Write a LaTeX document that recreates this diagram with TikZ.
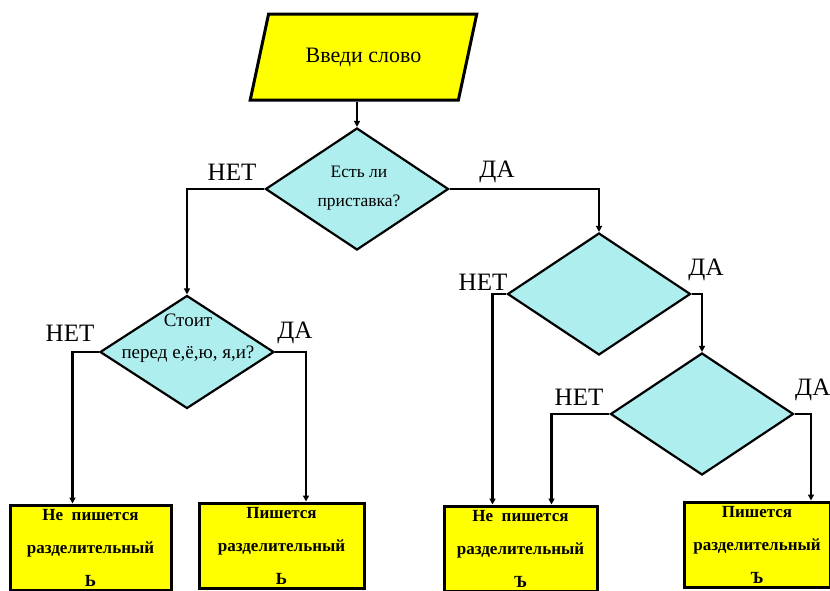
\documentclass[tikz,border=0pt]{standalone}
\usepackage{fontspec}
\setmainfont{Liberation Serif}
\usetikzlibrary{shapes.geometric,arrows.meta}
\definecolor{fillcyan}{RGB}{175,238,238}
\definecolor{fillyel}{RGB}{255,255,0}
\begin{document}
\begin{tikzpicture}[x=1pt,y=-1pt,
  lbl/.style={font=\fontsize{25}{25}\selectfont, inner sep=0pt},
  dtext/.style={font=\fontsize{17.5}{29}\selectfont, align=center, inner sep=0pt},
  dec/.style={diamond, draw, line width=2.2pt, fill=fillcyan, minimum width=183pt, minimum height=122pt, inner sep=0pt},
  outbox/.style={rectangle, draw, line width=3pt, fill=fillyel, minimum height=85pt, align=center, inner sep=0pt, font=\bfseries\fontsize{17}{33}\selectfont},
  conn/.style={line width=2.2pt, -{Triangle[length=6pt,width=6pt]}},
]
\useasboundingbox (0,0) rectangle (830,590);

% input
\node[trapezium, trapezium left angle=59, trapezium right angle=121, trapezium stretches=true,
      draw, line width=3pt, fill=fillyel, minimum width=227pt, minimum height=86pt, inner sep=0pt,
      font=\fontsize{22}{22}\selectfont] (in) at (363.5,57) {Введи слово};

% decisions
\node[dec] (d1) at (357,189) {};
\node[dtext] (t1) at (359,188) {Есть ли\\приставка?};
\node[dec, minimum width=174pt, minimum height=113pt] (d2) at (187,352) {};
\node[dtext, font=\fontsize{19}{32}\selectfont] (t2) at (188,338) {Стоит\\перед е,ё,ю, я,и?};
\node[dec] (d3) at (599,294) {};
\node[dec] (d4) at (702,414) {};

% outputs
\node[outbox, minimum width=161pt] (b1) at (90.5,547.5) {Не\ \ пишется\\разделительный\\Ь};
\node[outbox, minimum width=165pt] (b2) at (281.5,545.5) {Пишется\\разделительный\\Ь};
\node[outbox, minimum width=153pt] (b3) at (520.5,548.5) {Не\ \ пишется\\разделительный\\Ъ};
\node[outbox, minimum width=146pt] (b4) at (757,544.5) {Пишется\\разделительный\\Ъ};

% labels
\node[lbl] (n1) at (232,172) {НЕТ};
\node[lbl] (y1) at (497,172) {ДА};
\node[lbl] (n2) at (70,333) {НЕТ};
\node[lbl] (y2) at (295,333) {ДА};
\node[lbl] (n3) at (483,282) {НЕТ};
\node[lbl] (y3) at (706,270) {ДА};
\node[lbl] (n4) at (579,397) {НЕТ};
\node[lbl, anchor=west] (y4) at (795,390) {ДА};

% connectors
\draw[conn] (in.south -| d1.north) -- (d1.north);
\draw[conn] (d1.west) -| (d2.north);
\draw[conn] (d1.east) -| (d3.north);
\draw[conn] (d2.west) -| ([xshift=-18pt]b1.north);
\draw[conn] (d2.east) -| ([xshift=24.5pt]b2.north);
\draw[conn] (d3.west) -| ([xshift=-28pt]b3.north);
\draw[conn] (d3.east) -| (d4.north);
\draw[conn] (d4.west) -| ([xshift=31pt]b3.north);
\draw[conn] (d4.east) -| ([xshift=54pt]b4.north);
\end{tikzpicture}
\end{document}
